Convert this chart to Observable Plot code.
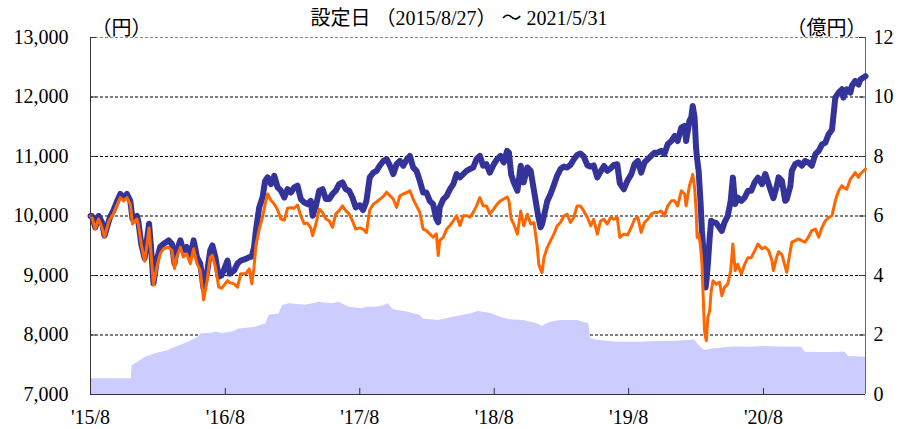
<!DOCTYPE html>
<html><head><meta charset="utf-8">
<script src="https://cdn.jsdelivr.net/npm/d3@7"></script>
<script src="https://cdn.jsdelivr.net/npm/@observablehq/plot@0.6"></script>
<style>html,body{margin:0;padding:0;background:#fff}</style>
</head><body><div id="chart"></div>
<script>
// ---- data ----
const navDates = ["2015-08-27","2015-08-31","2015-09-09","2015-09-18","2015-09-27","2015-10-04","2015-10-15","2015-10-19","2015-10-28","2015-11-06","2015-11-16","2015-11-25","2015-12-04","2015-12-13","2015-12-19","2015-12-31","2016-01-04","2016-01-12","2016-01-21","2016-01-27","2016-02-02","2016-02-08","2016-02-14","2016-02-23","2016-03-03","2016-03-12","2016-03-26","2016-04-04","2016-04-11","2016-04-17","2016-04-27","2016-05-05","2016-05-14","2016-05-24","2016-06-02","2016-06-11","2016-06-20","2016-06-29","2016-07-08","2016-07-17","2016-07-23","2016-07-31","2016-08-09","2016-08-17","2016-09-02","2016-09-08","2016-09-20","2016-09-29","2016-10-08","2016-10-22","2016-10-31","2016-11-07","2016-11-13","2016-11-18","2016-11-27","2016-12-06","2016-12-13","2016-12-20","2016-12-29","2017-01-07","2017-01-16","2017-01-25","2017-02-03","2017-02-12","2017-02-21","2017-03-02","2017-03-11","2017-03-20","2017-03-29","2017-04-07","2017-04-16","2017-04-21","2017-04-30","2017-05-09","2017-05-18","2017-05-27","2017-06-05","2017-06-14","2017-06-23","2017-07-02","2017-07-11","2017-07-20","2017-07-29","2017-08-07","2017-08-16","2017-08-27","2017-09-05","2017-09-14","2017-09-23","2017-10-03","2017-10-12","2017-10-20","2017-10-30","2017-11-08","2017-11-17","2017-11-26","2017-12-05","2017-12-14","2017-12-23","2018-01-02","2018-01-10","2018-01-19","2018-01-28","2018-02-06","2018-02-15","2018-02-24","2018-03-05","2018-03-14","2018-03-23","2018-03-28","2018-04-01","2018-04-11","2018-04-20","2018-04-29","2018-05-08","2018-05-17","2018-05-26","2018-06-04","2018-06-13","2018-06-22","2018-07-01","2018-07-10","2018-07-19","2018-07-28","2018-08-06","2018-08-15","2018-08-26","2018-09-04","2018-09-13","2018-09-22","2018-10-01","2018-10-06","2018-10-12","2018-10-19","2018-10-29","2018-11-07","2018-11-15","2018-11-25","2018-12-04","2018-12-13","2018-12-22","2018-12-26","2018-12-31","2019-01-04","2019-01-09","2019-01-18","2019-01-27","2019-02-05","2019-02-14","2019-02-23","2019-03-04","2019-03-13","2019-03-22","2019-03-31","2019-04-09","2019-04-18","2019-04-27","2019-05-07","2019-05-16","2019-05-24","2019-06-03","2019-06-12","2019-06-21","2019-06-30","2019-07-09","2019-07-18","2019-07-27","2019-08-03","2019-08-14","2019-08-24","2019-09-03","2019-09-12","2019-09-21","2019-09-30","2019-10-09","2019-10-18","2019-10-27","2019-11-05","2019-11-14","2019-11-23","2019-12-02","2019-12-11","2019-12-21","2019-12-30","2020-01-07","2020-01-17","2020-01-26","2020-01-30","2020-02-08","2020-02-13","2020-02-17","2020-02-22","2020-02-26","2020-02-29","2020-03-04","2020-03-09","2020-03-13","2020-03-16","2020-03-20","2020-03-23","2020-03-25","2020-03-29","2020-04-03","2020-04-07","2020-04-12","2020-04-21","2020-04-30","2020-05-06","2020-05-13","2020-05-22","2020-05-30","2020-06-05","2020-06-11","2020-06-18","2020-06-28","2020-07-07","2020-07-16","2020-07-25","2020-08-03","2020-08-12","2020-08-23","2020-09-01","2020-09-10","2020-09-19","2020-09-23","2020-10-02","2020-10-07","2020-10-16","2020-10-25","2020-10-29","2020-11-08","2020-11-12","2020-11-21","2020-11-30","2020-12-09","2020-12-18","2020-12-27","2021-01-05","2021-01-15","2021-01-24","2021-02-02","2021-02-11","2021-02-20","2021-03-01","2021-03-10","2021-03-19","2021-03-28","2021-04-01","2021-04-10","2021-04-20","2021-04-24","2021-05-03","2021-05-12","2021-05-17","2021-05-31"];

// 基準価額（分配金再投資）— 円
const navReinvested = [10000,10000,9810,10000,9895,9670,9900,9980,10090,10230,10370,10310,10370,10255,9950,10000,9900,9520,9290,9590,9870,9420,8870,9255,9480,9530,9590,9530,9200,9420,9590,9420,9480,9310,9590,9310,9200,8780,9030,9420,9505,9310,8980,9000,9250,9030,9085,9200,9250,9280,9310,9320,9475,9755,10145,10310,10590,10650,10535,10675,10480,10425,10310,10450,10395,10480,10510,10285,10230,10200,10255,10005,10170,10425,10450,10285,10285,10370,10425,10535,10565,10450,10425,10310,10145,10180,10100,10250,10650,10730,10760,10845,10925,10955,10845,10705,10870,10925,10845,10955,11010,10815,10760,10590,10395,10395,10255,10200,9950,9895,10145,10285,10340,10450,10535,10705,10650,10705,10760,10790,10815,10955,11010,10845,10870,10730,10870,10955,11010,10900,11095,11065,10700,10565,10425,10845,10565,10815,10760,10425,10090,9950,9810,9865,10000,10250,10370,10520,10680,10790,10830,10815,10860,10950,11025,11050,11000,10850,10830,10850,10650,10750,10840,10760,10800,10860,10870,10550,10450,10600,10700,10870,10925,10730,10900,10955,11010,11065,11065,11095,11040,11205,11260,11345,11260,11485,11515,11260,11600,11655,11850,11655,11150,10950,10760,10255,9750,9500,9100,8800,8900,9190,9640,9920,9900,9880,9800,9750,9890,10000,10250,10645,10200,10310,10255,10310,10425,10425,10565,10645,10535,10705,10535,10370,10300,10500,10650,10590,10255,10280,10500,10760,10870,10900,10845,10925,10900,10845,11040,11095,11205,11235,11375,11450,11990,12075,12130,11990,12130,12075,12185,12270,12210,12295,12350];

// 基準価額 — 円
const navPrice = [10000,9980,9785,9950,9810,9645,9895,9950,10035,10170,10310,10255,10310,10200,9865,9950,9850,9520,9240,9500,9800,9310,8840,9145,9365,9450,9475,9420,9115,9310,9475,9310,9365,9200,9450,9200,9090,8590,8895,9310,9340,9145,8810,8785,8915,8880,8860,8805,9030,9030,9110,8860,9140,9500,9780,9980,10200,10370,10260,10200,10100,9950,9930,10130,10140,10130,10185,10000,9870,9880,9800,9670,9865,10115,10060,9950,9920,9810,10035,10090,10170,10090,10035,9920,9780,9800,9780,9720,10100,10200,10240,10280,10330,10400,10340,10285,10145,10340,10370,10395,10425,10285,10170,10060,9780,9755,9700,9645,9700,9335,9585,9645,9780,9840,9920,10005,9840,10005,10005,9980,10060,10170,10310,10170,10170,10035,10120,10200,10255,10285,10320,10255,9950,9865,9695,10085,9835,10030,9865,9890,9470,9190,9100,9050,9300,9470,9585,9695,9835,9890,10000,10030,9890,9975,10170,10170,10085,9975,9835,9945,9695,9920,9945,9865,9975,9945,9975,9640,9695,9680,9810,9945,9975,9725,9890,9945,10030,10060,10060,10085,10000,10170,10255,10255,10170,10425,10370,10170,10510,10600,10700,10480,10100,9640,9700,9500,9190,8700,8070,7950,7905,8295,8405,8740,8910,8855,8885,8660,8800,8855,9080,9530,9080,9190,9025,9190,9300,9300,9415,9530,9450,9475,9420,9250,9085,9310,9400,9350,9150,9055,9420,9560,9585,9615,9585,9560,9645,9755,9780,9645,9810,9920,9975,10005,10255,10425,10510,10480,10450,10620,10650,10730,10650,10705,10790];

// 純資産総額 — 億円
const assetDates = ["2015-08-27","2015-12-16","2015-12-18","2016-01-04","2016-01-23","2016-02-19","2016-03-26","2016-04-04","2016-05-19","2016-06-15","2016-06-24","2016-07-21","2016-07-31","2016-08-19","2016-09-16","2016-10-04","2016-11-17","2016-12-15","2016-12-24","2017-01-20","2017-01-29","2017-02-17","2017-04-02","2017-05-09","2017-06-14","2017-07-02","2017-07-29","2017-09-03","2017-09-14","2017-10-12","2017-10-30","2017-11-12","2017-11-26","2018-01-02","2018-02-06","2018-02-15","2018-03-28","2018-05-08","2018-06-22","2018-07-15","2018-08-15","2018-09-13","2018-10-10","2018-11-15","2018-12-22","2019-01-04","2019-01-27","2019-02-23","2019-04-09","2019-05-11","2019-05-16","2019-06-03","2019-07-27","2019-09-30","2019-11-14","2019-12-30","2020-02-13","2020-02-22","2020-03-05","2020-03-20","2020-04-07","2020-05-13","2020-06-10","2020-07-25","2020-08-31","2020-10-07","2020-12-09","2020-12-18","2021-02-11","2021-04-06","2021-04-15","2021-05-31"];
const netAssets = [0.53,0.53,0.97,1.09,1.25,1.37,1.48,1.54,1.76,1.93,2.04,2.06,2.10,2.05,2.10,2.20,2.26,2.38,2.66,2.71,2.99,3.05,3.00,3.10,3.05,3.10,2.93,2.88,2.93,2.93,2.98,3.05,2.85,2.77,2.66,2.54,2.49,2.60,2.71,2.79,2.73,2.60,2.51,2.49,2.38,2.29,2.43,2.49,2.49,2.38,1.87,1.82,1.76,1.76,1.78,1.79,1.82,1.84,1.65,1.48,1.52,1.57,1.60,1.59,1.61,1.60,1.59,1.42,1.41,1.42,1.28,1.25];

// axes
const leftTicks = [7000, 8000, 9000, 10000, 11000, 12000, 13000];
const gridTicks = [8000, 9000, 10000, 11000, 12000];
const rightTicks = [0, 2, 4, 6, 8, 10, 12];
const xTickDates = ["2015-08-27","2016-08-27","2017-08-27","2018-08-27","2019-08-27","2020-08-27"];
const xTickLabels = ["'15/8","'16/8","'17/8","'18/8","'19/8","'20/8"];
const startDate = "2015-08-27", endDate = "2021-05-31";
const titleText = "設定日 （2015/8/27） ～ 2021/5/31";
const leftUnit = "（円）", rightUnit = "（億円）";

// ---- build ----
const parse = s => new Date(s + "T00:00:00Z");
const nav = navDates.map((d, i) => ({date: parse(d), reinvested: navReinvested[i], price: navPrice[i]}));
const assets = assetDates.map((d, i) => ({date: parse(d), value: netAssets[i]}));
const toLeft = v => 7000 + v * 500;            // right axis (億円) -> left scale (円)
const fromLeft = y => (y - 7000) / 500;
const xTicks = xTickDates.map(parse);
const labelOf = new Map(xTicks.map((d, i) => [+d, xTickLabels[i]]));
const FONT = "'Liberation Serif','Times New Roman','Noto Sans CJK JP',serif";

const chart = Plot.plot({
  width: 903, height: 429,
  marginLeft: 90, marginRight: 38, marginTop: 37, marginBottom: 35,
  style: {fontFamily: FONT, fontSize: "20px", color: "#000", background: "#fff"},
  x: {type: "utc", domain: [parse(startDate), parse(endDate)]},
  y: {domain: [7000, 13000]},
  marks: [
    Plot.ruleY(gridTicks, {y: d => d, stroke: "#000", strokeDasharray: "3,2", strokeWidth: 1}),
    Plot.areaY(assets, {x: "date", y1: 7000, y2: d => toLeft(d.value), fill: "#ccccff"}),
    Plot.ruleY([13000], {y: d => d, stroke: "#888", strokeDasharray: "3,2"}),
    Plot.ruleX([parse(startDate)], {x: d => d, stroke: "#333"}),
    Plot.ruleX([parse(endDate)], {x: d => d, stroke: "#666"}),
    Plot.ruleY([7000], {y: d => d, stroke: "#333"}),
    Plot.lineY(nav, {x: "date", y: "reinvested", stroke: "#333399", strokeWidth: 6, strokeLinejoin: "round", strokeLinecap: "round"}),
    Plot.lineY(nav, {x: "date", y: "price", stroke: "#ff6600", strokeWidth: 3, strokeLinejoin: "round"}),
    Plot.tickY(leftTicks, {y: d => d, insetRight: 769, stroke: "#333"}),
    Plot.tickY(leftTicks, {y: d => d, insetLeft: 769, stroke: "#333"}),
    Plot.tickX(xTicks, {x: d => d, insetTop: 351, stroke: "#333"}),
    Plot.axisY(leftTicks, {anchor: "left", tickSize: 0, tickPadding: 22, tickFormat: d3.format(","), fontSize: 20, label: null}),
    Plot.axisY(rightTicks.map(toLeft), {anchor: "right", tickSize: 0, tickPadding: 8, tickFormat: d => String(fromLeft(d)), fontSize: 20, label: null}),
    Plot.axisX(xTicks, {anchor: "bottom", tickSize: 0, tickPadding: 15, tickFormat: d => labelOf.get(+d), fontSize: 20, label: null}),
    Plot.text([titleText], {frameAnchor: "top", dx: -19, dy: -27, fontSize: 20, textAnchor: "middle"}),
    Plot.text([leftUnit], {frameAnchor: "top-left", dx: 31, dy: -17, fontSize: 20, textAnchor: "middle"}),
    Plot.text([rightUnit], {frameAnchor: "top-right", dx: -39, dy: -17, fontSize: 20, textAnchor: "middle"})
  ]
});
document.getElementById("chart").append(chart);
</script>
</body></html>
